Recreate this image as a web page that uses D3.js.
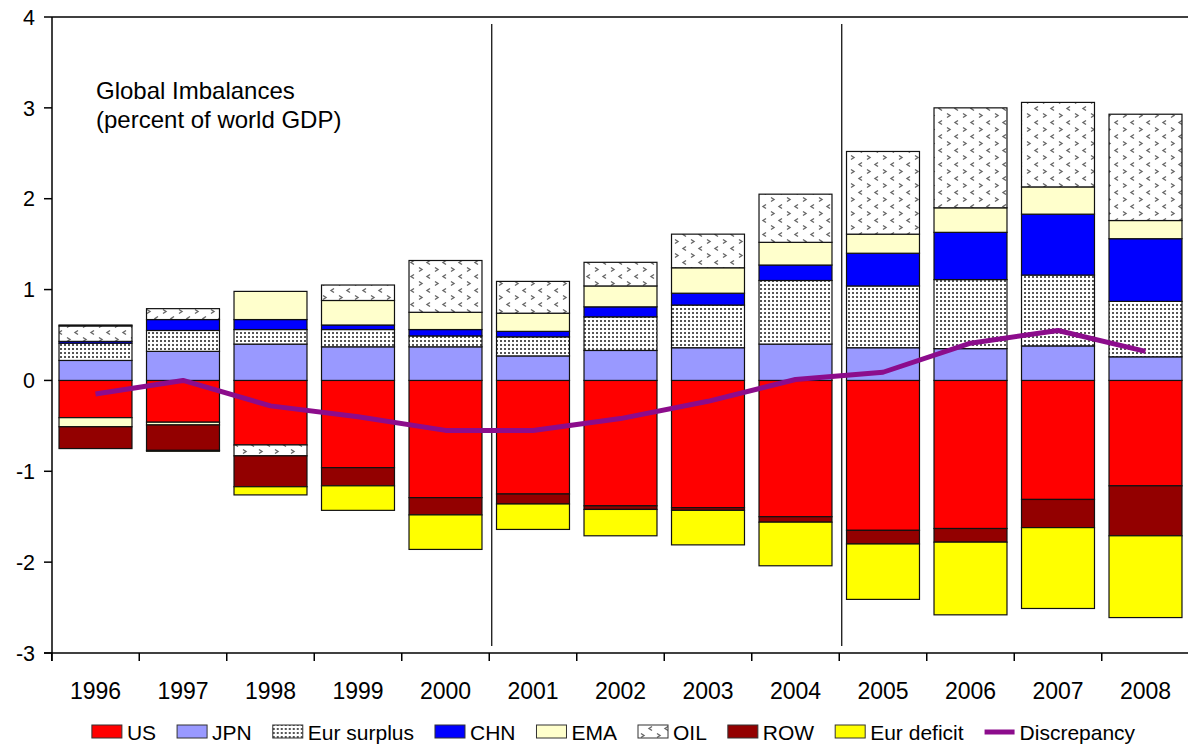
<!DOCTYPE html>
<html>
<head>
<meta charset="utf-8">
<script src="https://cdn.jsdelivr.net/npm/d3@7"></script>
<style>
  body { margin: 0; background: #fff; }
  text { font-family: "Liberation Sans", Arial, sans-serif; fill: #000; }
</style>
</head>
<body>
<script>
// values (percent of world GDP)
const years = ['1996','1997','1998','1999','2000','2001','2002','2003','2004','2005','2006','2007','2008'];
const US   = [-0.41,-0.46,-0.71,-0.96,-1.29,-1.25,-1.38,-1.40,-1.50,-1.65,-1.63,-1.31,-1.16];
const JPN  = [0.22,0.32,0.40,0.37,0.37,0.27,0.33,0.36,0.40,0.36,0.35,0.38,0.26];
const EurS = [0.19,0.23,0.16,0.19,0.12,0.21,0.37,0.47,0.70,0.68,0.76,0.78,0.61];
const CHN  = [0.02,0.12,0.11,0.05,0.07,0.06,0.11,0.13,0.17,0.36,0.52,0.67,0.69];
const EMA  = [-0.10,-0.03,0.31,0.27,0.19,0.20,0.23,0.28,0.25,0.21,0.27,0.30,0.20];
const OIL  = [0.17,0.12,-0.12,0.17,0.57,0.35,0.26,0.37,0.53,0.91,1.10,0.93,1.17];
const ROW  = [-0.24,-0.28,-0.34,-0.20,-0.19,-0.11,-0.04,-0.03,-0.06,-0.15,-0.15,-0.31,-0.55];
const EurD = [0.01,-0.01,-0.09,-0.27,-0.38,-0.28,-0.29,-0.38,-0.48,-0.61,-0.80,-0.89,-0.90];
const discrepancy = [-0.15,0.0,-0.28,-0.40,-0.55,-0.55,-0.42,-0.23,0.01,0.09,0.41,0.55,0.32];
const yTicks = [-3,-2,-1,0,1,2,3,4];

const series = [
  {key: 'US', label: 'US', vals: US, fill: '#ff0000'},
  {key: 'JPN', label: 'JPN', vals: JPN, fill: '#9999ff'},
  {key: 'EurS', label: 'Eur surplus', vals: EurS, fill: 'url(#dots)'},
  {key: 'CHN', label: 'CHN', vals: CHN, fill: '#0000ff'},
  {key: 'EMA', label: 'EMA', vals: EMA, fill: '#ffffcc'},
  {key: 'OIL', label: 'OIL', vals: OIL, fill: 'url(#chev)'},
  {key: 'ROW', label: 'ROW', vals: ROW, fill: '#930000'},
  {key: 'EurD', label: 'Eur deficit', vals: EurD, fill: '#ffff00'}
];
const lineColor = '#8c0c8c';

const width = 1188, height = 747;
const svg = d3.select('body').append('svg').attr('width', width).attr('height', height);

//patterns
const defs = svg.append('defs');
const dots = defs.append('pattern').attr('id', 'dots').attr('patternUnits', 'userSpaceOnUse')
  .attr('width', 4).attr('height', 4);
dots.append('rect').attr('width', 4).attr('height', 4).attr('fill', '#fff');
dots.append('rect').attr('x', 0).attr('y', 0).attr('width', 2).attr('height', 2).attr('fill', '#555');
const chev = defs.append('pattern').attr('id', 'chev').attr('patternUnits', 'userSpaceOnUse')
  .attr('width', 16).attr('height', 14);
chev.append('rect').attr('width', 16).attr('height', 14).attr('fill', '#fff');
chev.append('path').attr('d', 'M3,1.5 L6,3.5 L3,5.5').attr('fill', 'none').attr('stroke', '#666').attr('stroke-width', 1.4);
chev.append('path').attr('d', 'M14,8.5 L11,10.5 L14,12.5').attr('fill', 'none').attr('stroke', '#666').attr('stroke-width', 1.4);

//scales
const plotLeft = 52, plotRight = 1189.25, plotTop = 17, plotBottom = 653;
const x = d3.scaleBand().domain(years).range([plotLeft - 0.25, plotRight]).paddingInner(0.166).paddingOuter(0.083);
const y = d3.scaleLinear().domain([-3, 4]).range([plotBottom, plotTop]);
const step = x.step();

//stack data
const rows = years.map((yr, i) => {
  const r = {year: yr};
  series.forEach(s => r[s.key] = s.vals[i]);
  return r;
});
const stacked = d3.stack().keys(series.map(s => s.key)).offset(d3.stackOffsetDiverging)(rows);

//frame
svg.append('line').attr('x1', plotLeft).attr('x2', width).attr('y1', plotTop).attr('y2', plotTop)
  .attr('stroke', '#000').attr('stroke-width', 1.5);

//separator lines
['2001', '2005'].forEach(yr => {
  const xx = x(yr) - step * 0.083 + 2.5;
  svg.append('line').attr('x1', xx).attr('x2', xx).attr('y1', 24).attr('y2', 646)
    .attr('stroke', '#000').attr('stroke-width', 1.2);
});

//bars
stacked.forEach((layer, li) => {
  svg.append('g').selectAll('rect')
    .data(layer.filter(d => d[0] !== d[1]))
    .join('rect')
    .attr('x', d => x(d.data.year))
    .attr('width', x.bandwidth())
    .attr('y', d => y(Math.max(d[0], d[1])))
    .attr('height', d => Math.abs(y(d[0]) - y(d[1])))
    .attr('fill', series[li].fill)
    .attr('stroke', '#111')
    .attr('stroke-width', 1.2);
});

//discrepancy line
const line = d3.line().x((d, i) => x(years[i]) + x.bandwidth() / 2).y(d => y(d));
svg.append('path').datum(discrepancy).attr('d', line)
  .attr('fill', 'none').attr('stroke', lineColor).attr('stroke-width', 5).attr('stroke-linejoin', 'round');

//y axis
svg.append('line').attr('x1', plotLeft).attr('x2', plotLeft).attr('y1', plotTop).attr('y2', plotBottom + 8)
  .attr('stroke', '#000').attr('stroke-width', 1.5);
yTicks.forEach(t => {
  svg.append('line').attr('x1', plotLeft - 8).attr('x2', plotLeft).attr('y1', y(t)).attr('y2', y(t))
    .attr('stroke', '#000').attr('stroke-width', 1.5);
  svg.append('text').attr('x', 35).attr('y', y(t)).attr('dy', '0.36em')
    .attr('text-anchor', 'end').attr('font-size', 21.5).text(t);
});

//x axis
svg.append('line').attr('x1', plotLeft - 8).attr('x2', width).attr('y1', plotBottom).attr('y2', plotBottom)
  .attr('stroke', '#000').attr('stroke-width', 1.5);
years.forEach(yr => {
  const bx = x(yr) - step * 0.083;
  svg.append('line').attr('x1', bx).attr('x2', bx).attr('y1', plotBottom).attr('y2', plotBottom + 8)
    .attr('stroke', '#000').attr('stroke-width', 1.5);
  svg.append('text').attr('x', x(yr) + x.bandwidth() / 2).attr('y', 699)
    .attr('text-anchor', 'middle').attr('font-size', 23).text(yr);
});

//title
const title = svg.append('text').attr('x', 96).attr('y', 99).attr('font-size', 24);
title.append('tspan').attr('x', 96).text('Global Imbalances');
title.append('tspan').attr('x', 96).attr('dy', 29).text('(percent of world GDP)');

//legend
const legItems = series.map(s => ({label: s.label, fill: s.fill, type: 'rect'}))
  .concat([{label: 'Discrepancy', fill: lineColor, type: 'line'}]);
const leg = svg.append('g');
let lx = 0;
legItems.forEach(it => {
  const g = leg.append('g').attr('transform', 'translate(' + lx + ',0)');
  if (it.type === 'rect') {
    g.append('rect').attr('x', 0).attr('y', -7).attr('width', 30).attr('height', 13)
      .attr('fill', it.fill).attr('stroke', '#333').attr('stroke-width', 1);
  } else {
    g.append('line').attr('x1', 0).attr('x2', 30).attr('y1', 0).attr('y2', 0)
      .attr('stroke', it.fill).attr('stroke-width', 5);
  }
  const t = g.append('text').attr('x', 35).attr('y', 0).attr('dy', '0.36em')
    .attr('font-size', 21).text(it.label);
  lx += 35 + t.node().getComputedTextLength() + 21;
});
const legW = lx - 21;
leg.attr('transform', 'translate(' + (613.5 - legW / 2) + ',732)');
</script>
</body>
</html>
